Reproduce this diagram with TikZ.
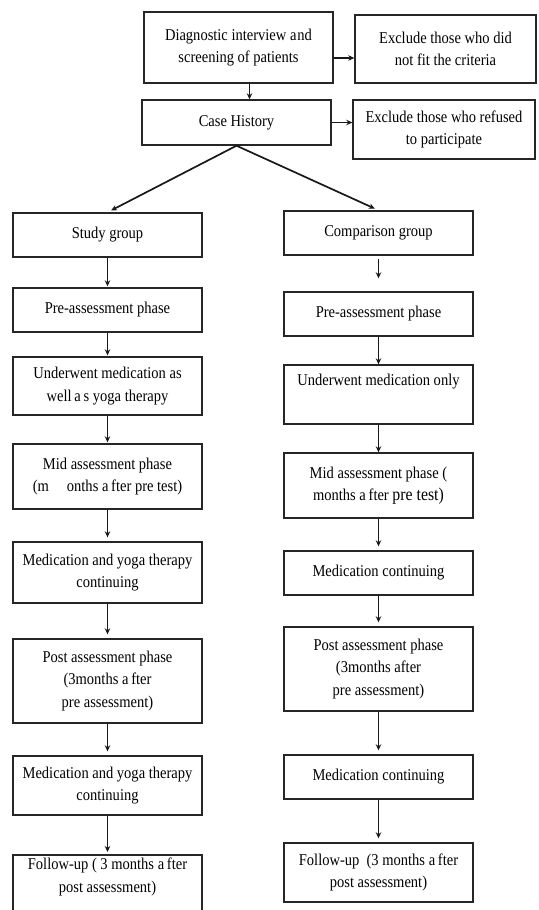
\documentclass[tikz,border=0pt]{standalone}
\usepackage{fontspec}
\setmainfont{Liberation Serif}[FakeStretch=0.88]
\usetikzlibrary{arrows.meta,calc}
\begin{document}
\begin{tikzpicture}[x=1pt,y=-1pt,
  box/.style={draw=black!85, line width=1.4pt, minimum width=189pt, align=center, inner sep=2pt, font=\fontsize{16.5}{22.5}\selectfont},
  txt/.style={align=center, inner sep=0pt, font=\fontsize{16.5}{22.5}\selectfont},
  boxline/.style={draw=black!85, line width=1.4pt},
  arr/.style={line width=1.7pt, draw=black!90, -{Stealth[length=6pt,width=5.5pt]}, shorten >=4pt},
  line/.style={line width=1.7pt, draw=black!90}
]
\useasboundingbox[fill=white] (0,0) rectangle (538,910);
% top part
\node[box, minimum height=71pt] (D) at (238.5,47.5) {Diagnostic interview a\kern1pt nd\\screening of patients};
\node[box, minimum width=181pt, minimum height=68pt] (E1) at (445.5,49) {Exclude those who did\\not fit the criteria};
\node[box, minimum height=45pt] (C) at (236.5,122.5) {Case History};
\node[box, minimum width=182pt, minimum height=59pt] (E2) at (444,129.5) {Exclude those who refused\\to participate};
\draw[arr, shorten >=0pt] ([yshift=-10.5pt]D.east) -- ([yshift=-10.5pt]D.east -| E1.west);
\draw[arr, shorten >=0pt] (C.east) -- (C.east -| E2.west);
\draw[arr, shorten >=0pt] ([xshift=11pt]D.south) -- ([xshift=11pt]D.south |- C.north);
% left column
\node[box, minimum height=44pt] (S) at (107.5,235) {Study group};
\node[box, minimum height=44pt] (P1) at (107.5,310) {Pre-assessment phase};
\node[box, minimum height=58pt] (U1) at (107.5,386) {Underwent medication as\\well\,a\,s yoga therapy};
\node[box, minimum height=65pt] (M1) at (107.5,476.5) {Mid assessment phase\\(m\hspace{18pt}onths a\,fter pre test)};
\node[box, minimum height=61pt] (Y1) at (107.5,572.5) {Medication and yoga therapy\\continuing};
\node[box, minimum height=84pt] (PA1) at (107.5,681) {Post assessment phase\\(3months a\,fter\\pre assessment)};
\node[box, minimum height=59pt] (Y2) at (107.5,785.5) {Medication and yoga therapy\\continuing};
\node[txt] (F1) at (107.5,877) {Follow-up ( 3 months a\,fter\\post assessment)};
\coordinate (F1top) at (107.5,855);
\draw[boxline] (13,855) rectangle (202,925);
% right column
\node[box, minimum height=44pt] (CG) at (378.5,233) {Comparison group};
\node[box, minimum height=44pt] (P2) at (378.5,314) {Pre-assessment phase};
\node[box, minimum height=59pt] (U2) at (378.5,394.5) {Underwent medication only\\\strut};
\node[box, minimum height=65pt] (M2) at (378.5,485.5) {Mid assessment phase (\hspace{8pt}\\months a\,fter {\fontsize{18}{22.5}\selectfont pre test)}};
\node[box, minimum height=44pt] (MC1) at (378.5,573) {Medication continuing};
\node[box, minimum height=84pt] (PA2) at (378.5,669) {Post assessment phase\\(3months after\\pre assessment)};
\node[box, minimum height=44pt] (MC2) at (378.5,777) {Medication continuing};
\node[box, minimum height=59pt] (F2) at (378.5,872.5) {Follow-up\ \ (3 months a\,fter\\post assessment)};
% split
\draw[arr] (C.south) -- (S.north);
\draw[arr] (C.south) -- (CG.north);
% left arrows
\draw[arr, shorten >=1pt] (S) -- (P1);
\draw[arr, shorten >=1pt] (P1) -- (U1);
\draw[arr, shorten >=1pt] (U1) -- (M1);
\draw[arr] (M1) -- (Y1);
\draw[arr] (Y1) -- (PA1);
\draw[arr] (PA1) -- (Y2);
\draw[arr, shorten >=3pt] (Y2.south) -- (F1top);
% right arrows
\draw[arr, shorten <=3pt, shorten >=13pt] (CG) -- (P2);
\draw[arr, shorten >=0pt] (P2) -- (U2);
\draw[arr, shorten >=0pt] (U2) -- (M2);
\draw[arr] (M2) -- (MC1);
\draw[arr] (MC1) -- (PA2);
\draw[arr] (PA2) -- (MC2);
\draw[arr] (MC2) -- (F2);
\end{tikzpicture}
\end{document}
